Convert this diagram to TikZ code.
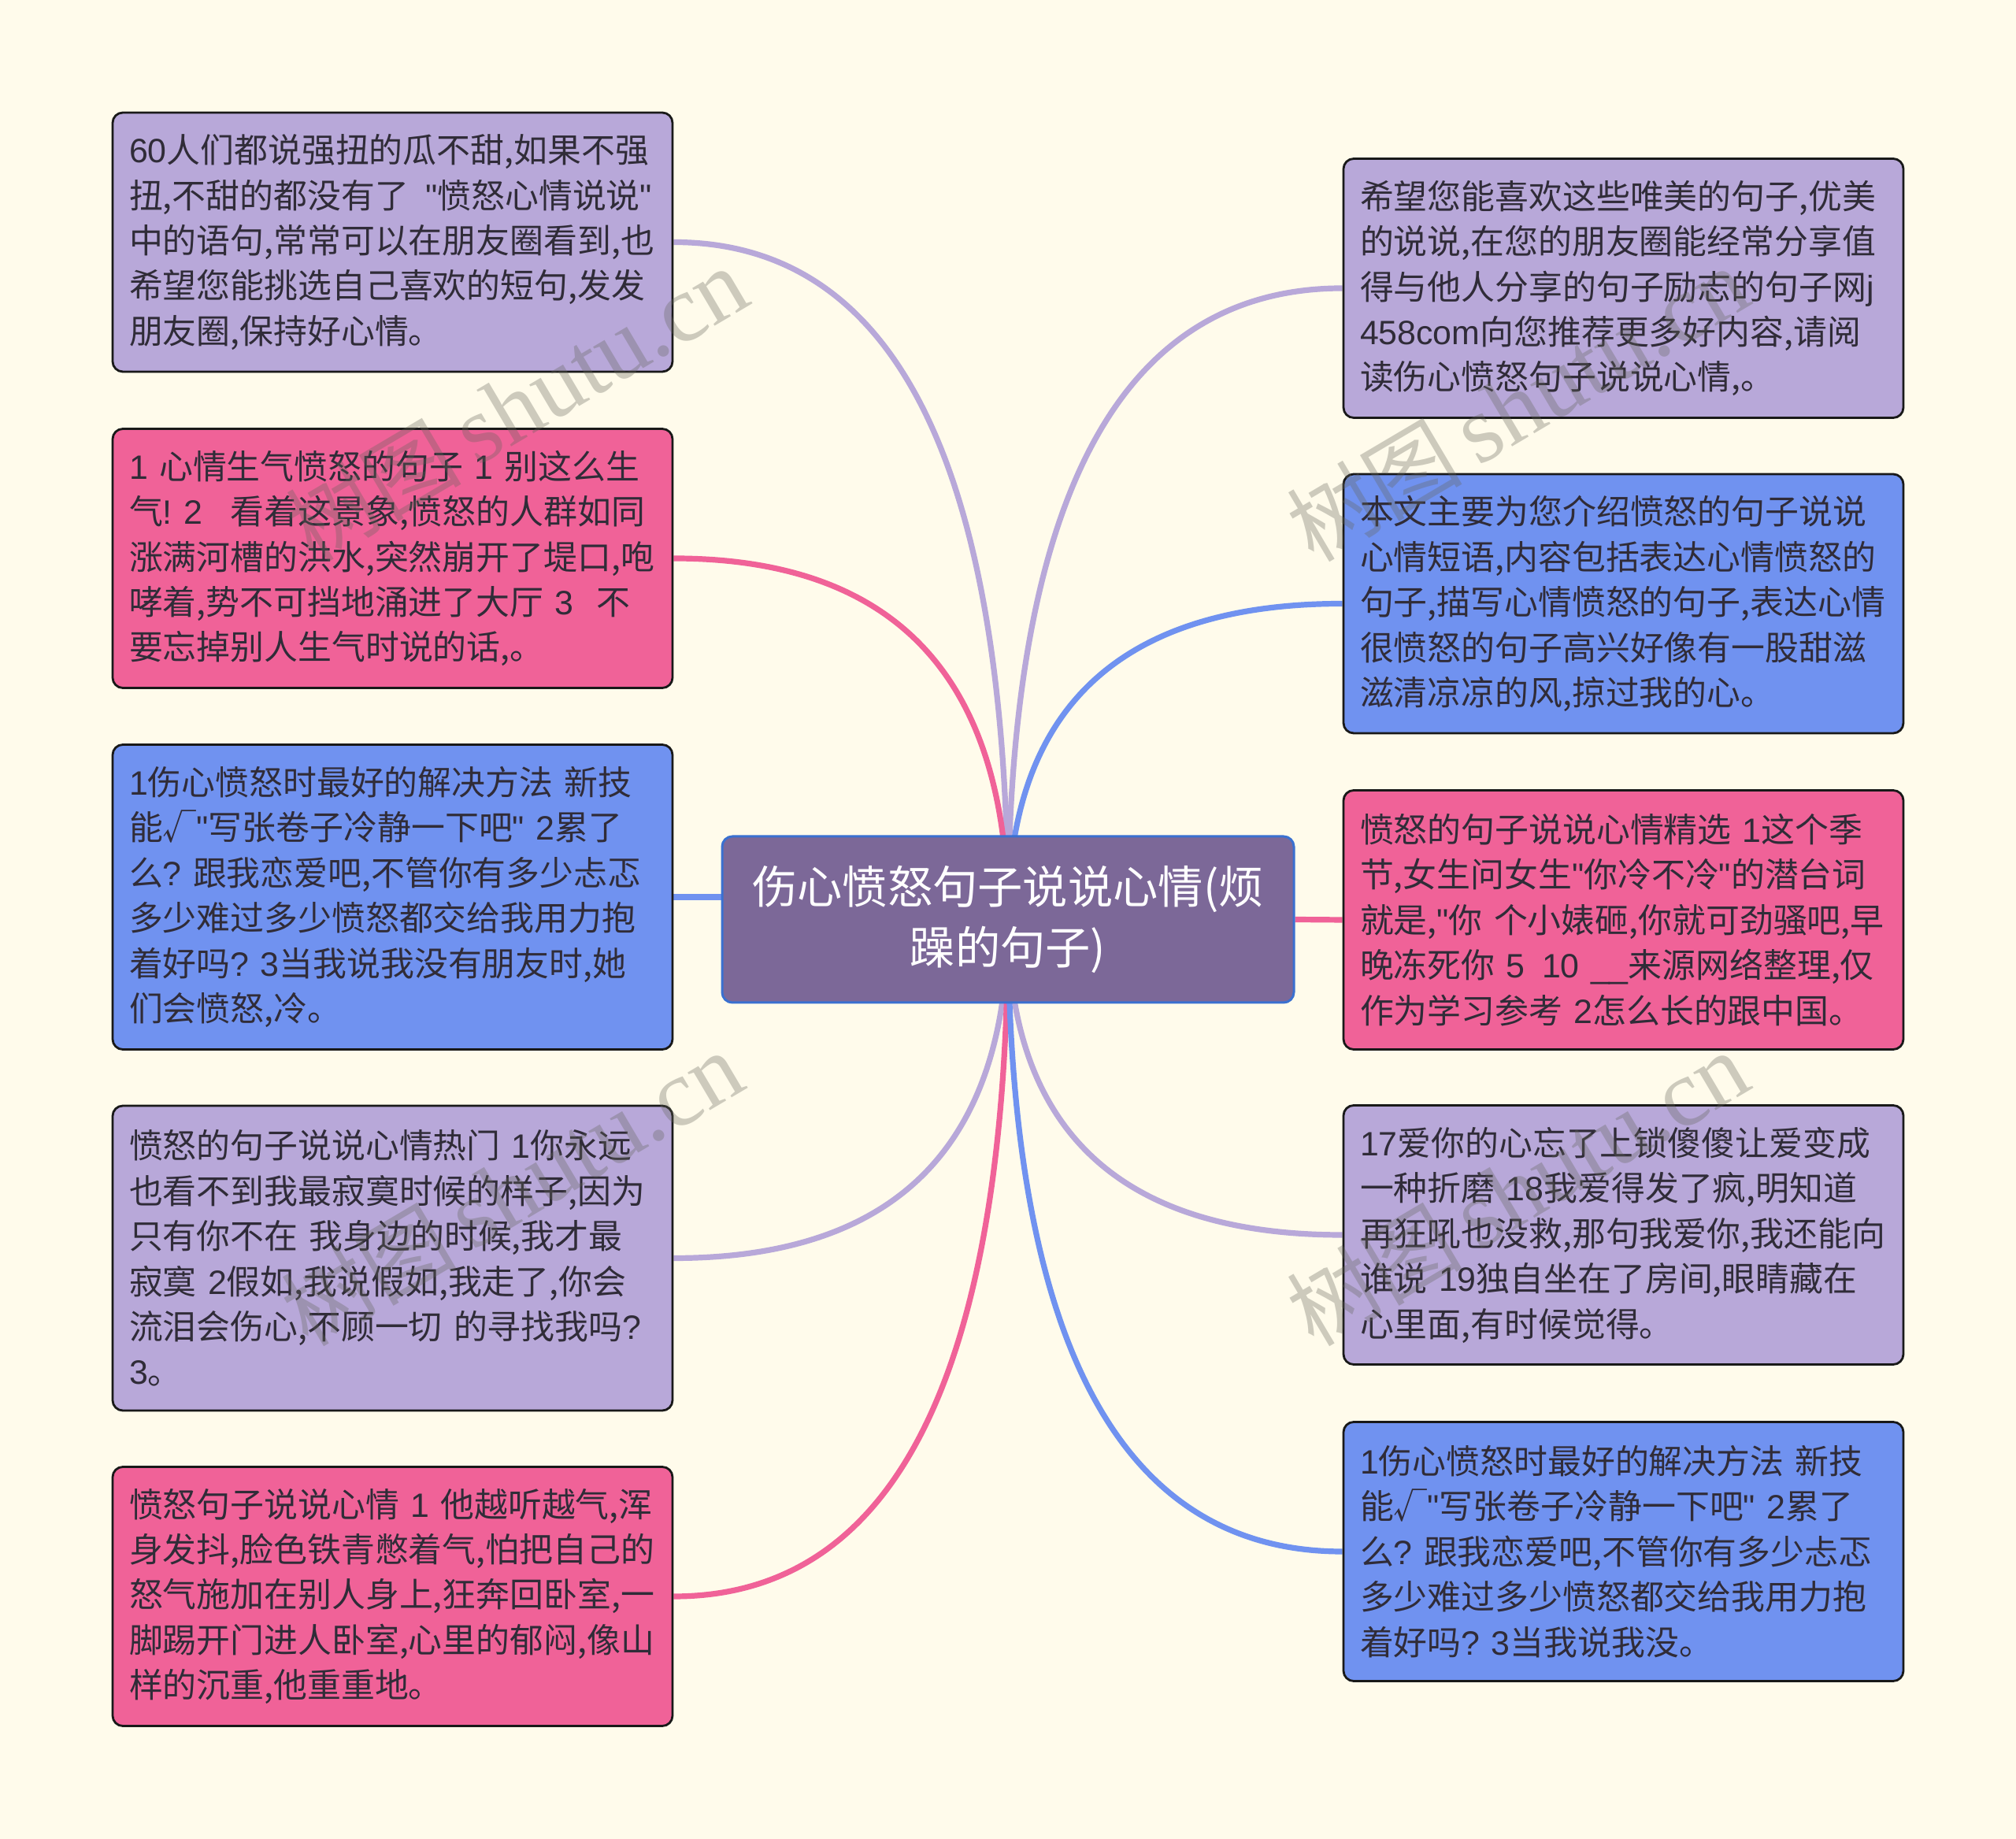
\documentclass[tikz,border=0pt]{standalone}
\usepackage{fontspec}
\setmainfont{Noto Sans CJK SC}
\newfontfamily\markfont{Liberation Serif}
\newfontfamily\enfont{Liberation Sans}
\newcommand{\en}[1]{{\enfont #1}}
\newcommand{\marktext}{树图{\markfont\fontsize{34.5pt}{40pt}\selectfont\,shutu.cn}}
\usetikzlibrary{calc,backgrounds}
\definecolor{pagebg}{RGB}{255,251,235}
\definecolor{lilac}{RGB}{184,168,217}
\definecolor{rose}{RGB}{240,98,152}
\definecolor{sky}{RGB}{112,146,240}
\definecolor{rootfill}{RGB}{124,104,152}
\definecolor{rootline}{RGB}{58,112,208}
\definecolor{inktext}{RGB}{48,44,56}
\definecolor{markgray}{RGB}{100,100,90}
\tikzset{
	leafbox/.style={
			draw=black!90, line width=0.028cm, rounded corners=0.13cm, text=inktext,
			minimum width=7.11cm, text width=6.69cm, inner sep=0pt, align=left,
			font=\fontsize{12.2pt}{16.35pt}\selectfont
		},
	short/.style={leafbox, minimum height=3.29cm},
	tall/.style={leafbox, minimum height=3.87cm},
	rootbox/.style={
			draw=rootline, line width=0.03cm, rounded corners=0.13cm, fill=rootfill, text=white,
			minimum width=7.26cm, minimum height=2.11cm, text width=6.7cm, inner sep=0pt, align=center,
			font=\fontsize{16.3pt}{21.9pt}\selectfont
		},
	link/.style={line width=0.072cm},
	wmark/.style={
			rotate=30.6, text=markgray, text opacity=0.32,
			font=\fontsize{31.7pt}{36pt}\selectfont
		}
}
\begin{document}
\begin{tikzpicture}
	\useasboundingbox (0,0) rectangle (25.6,23.35);
	% root
	\node[rootbox] (root) at (12.8,11.675) {伤心愤怒句子说说心情(烦\\躁的句子)};
	% left column
	\node[short, fill=lilac] (l1) at (4.985,20.275) {\en{60}人们都说强扭的瓜不甜,如果不强\\扭,不甜的都没有了\en{~\,"}愤怒心情说说\en{"}\\中的语句,常常可以在朋友圈看到,也\\希望您能挑选自己喜欢的短句,发发\\朋友圈,保持好心情。};
	\node[short, fill=rose] (l2) at (4.985,16.26) {\en{1~}心情生气愤怒的句子\en{~1~}别这么生\\气\en{!~2~~\,}看着这景象,愤怒的人群如同\\涨满河槽的洪水,突然崩开了堤口,咆\\哮着,势不可挡地涌进了大厅\en{~3~~}不\\要忘掉别人生气时说的话,。};
	\node[tall, fill=sky] (l3) at (4.985,11.96) {\en{1}伤心愤怒时最好的解决方法\en{~}新技\\能√\en{"}写张卷子冷静一下吧\en{"~2}累了\\么\en{?~}跟我恋爱吧,不管你有多少忐忑\\多少难过多少愤怒都交给我用力抱\\着好吗\en{?~3}当我说我没有朋友时,她\\们会愤怒,冷。};
	\node[tall, fill=lilac] (l4) at (4.985,7.375) {愤怒的句子说说心情热门\en{~1}你永远\\也看不到我最寂寞时候的样子,因为\\只有你不在\en{~}我身边的时候,我才最\\寂寞\en{~2}假如,我说假如,我走了,你会\\流泪会伤心,不顾一切\en{~}的寻找我吗\en{?}\\\en{3}。};
	\node[short, fill=rose] (l5) at (4.985,3.08) {愤怒句子说说心情\en{~1~}他越听越气,浑\\身发抖,脸色铁青憋着气,怕把自己的\\怒气施加在别人身上,狂奔回卧室,一\\脚踢开门进人卧室,心里的郁闷,像山\\样的沉重,他重重地。};
	% right column
	\node[short, fill=lilac] (r1) at (20.615,19.69) {希望您能喜欢这些唯美的句子,优美\\的说说,在您的朋友圈能经常分享值\\得与他人分享的句子励志的句子网\en{j}\\\en{458com}向您推荐更多好内容,请阅\\读伤心愤怒句子说说心情,。};
	\node[short, fill=sky] (r2) at (20.615,15.685) {本文主要为您介绍愤怒的句子说说\\心情短语,内容包括表达心情愤怒的\\句子,描写心情愤怒的句子,表达心情\\很愤怒的句子高兴好像有一股甜滋\\滋清凉凉的风,掠过我的心。};
	\node[short, fill=rose] (r3) at (20.615,11.67) {愤怒的句子说说心情精选\en{~1}这个季\\节,女生问女生\en{"}你冷不冷\en{"}的潜台词\\就是,\en{"}你\en{~}个小婊砸,你就可劲骚吧,早\\晚冻死你\en{~5~\,10~\_\_}来源网络整理,仅\\作为学习参考\en{~2}怎么长的跟中国。};
	\node[short, fill=lilac] (r4) at (20.615,7.67) {\en{17}爱你的心忘了上锁傻傻让爱变成\\一种折磨\en{~18}我爱得发了疯,明知道\\再狂吼也没救,那句我爱你,我还能向\\谁说\en{~19}独自坐在了房间,眼睛藏在\\心里面,有时候觉得。};
	\node[short, fill=sky] (r5) at (20.615,3.65) {\en{1}伤心愤怒时最好的解决方法\en{~}新技\\能√\en{"}写张卷子冷静一下吧\en{"~2}累了\\么\en{?~}跟我恋爱吧,不管你有多少忐忑\\多少难过多少愤怒都交给我用力抱\\着好吗\en{?~3}当我说我没。};
	\begin{pgfonlayer}{background}
		\fill[pagebg] (0,0) rectangle (25.6,23.35);
		% curved links, they end behind the root
		\foreach \leaf/\side/\col in {
				l1/east/lilac, l2/east/rose, l4/east/lilac, l5/east/rose,
				r1/west/lilac, r2/west/sky, r4/west/lilac, r5/west/sky}{
				\draw[link, \col] (\leaf.\side)
				.. controls ($(\leaf.\side)!0.667!(\leaf.\side -| root.center)$)
				and ($(root.center)!0.667!(\leaf.\side -| root.center)$) .. (root.center);
			}
		% straight links
		\draw[link, sky] (l3.east) -- (l3.east -| root.west);
		\draw[link, rose] (root.east) -- (r3.west);
	\end{pgfonlayer}
	% watermarks
	\node[wmark] (marka) at (6.56,18.21) {\marktext};
	\node[wmark] (markb) at (19.27,18.21) {\marktext};
	\node[wmark] (markc) at (6.5,8.25) {\marktext};
	\node[wmark] (markd) at (19.27,8.25) {\marktext};
\end{tikzpicture}
\end{document}
